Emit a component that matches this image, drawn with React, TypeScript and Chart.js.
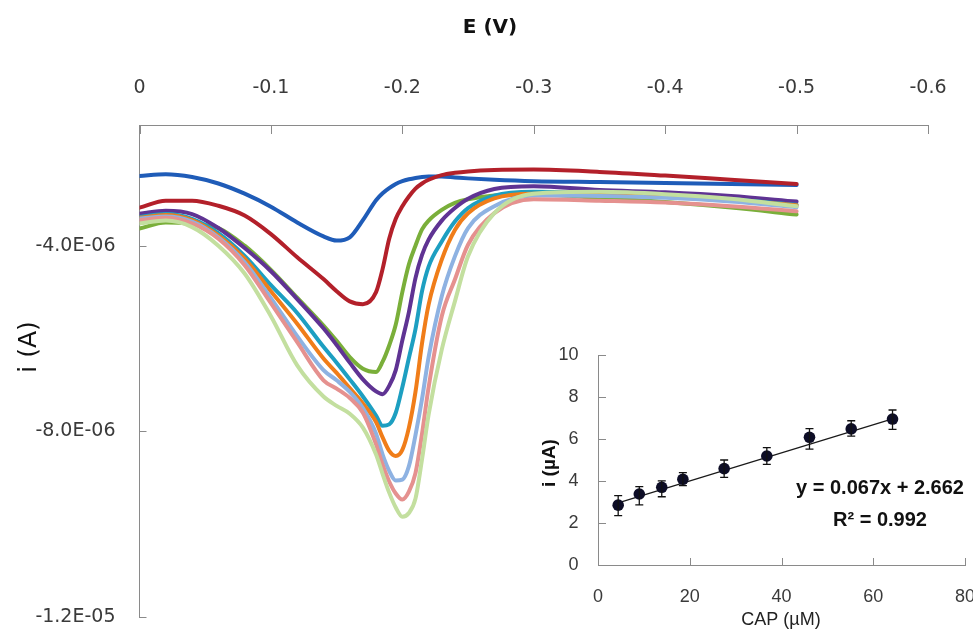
import React, { useEffect, useRef } from "react";
import { Chart, registerables } from "chart.js";

Chart.register(...registerables);

// ---------------- Main voltammogram (E in V, i in µA) ----------------
const potentialV = [0, -0.02, -0.04, -0.06, -0.08, -0.1, -0.12, -0.14, -0.15, -0.16, -0.17, -0.18, -0.185, -0.19, -0.195, -0.2, -0.205, -0.21, -0.215, -0.22, -0.23, -0.24, -0.25, -0.27, -0.3, -0.35, -0.4, -0.45, -0.5];

const curBlank = [-2.50, -2.46, -2.52, -2.66, -2.88, -3.16, -3.50, -3.80, -3.89, -3.82, -3.45, -3.02, -2.87, -2.76, -2.67, -2.61, -2.57, -2.54, -2.52, -2.51, -2.51, -2.53, -2.55, -2.58, -2.61, -2.63, -2.65, -2.67, -2.69];
const curRed = [-3.18, -3.03, -3.03, -3.14, -3.35, -3.75, -4.25, -4.72, -4.98, -5.20, -5.26, -5.00, -4.50, -3.85, -3.42, -3.15, -2.94, -2.77, -2.66, -2.58, -2.48, -2.43, -2.40, -2.37, -2.36, -2.41, -2.49, -2.58, -2.67];
const curGreen = [-3.63, -3.50, -3.53, -3.62, -4.00, -4.52, -5.12, -5.72, -6.05, -6.40, -6.65, -6.72, -6.50, -6.15, -5.70, -5.00, -4.40, -4.00, -3.65, -3.46, -3.23, -3.08, -3.00, -2.92, -2.90, -2.97, -3.06, -3.18, -3.33];
const curPurple = [-3.31, -3.25, -3.32, -3.62, -4.05, -4.55, -5.15, -5.78, -6.14, -6.52, -6.88, -7.14, -7.20, -7.02, -6.68, -6.04, -5.43, -4.70, -4.20, -3.87, -3.46, -3.19, -2.99, -2.78, -2.72, -2.80, -2.85, -2.93, -3.05];
const curCyan = [-3.38, -3.32, -3.42, -3.73, -4.22, -4.85, -5.45, -6.18, -6.52, -6.88, -7.25, -7.66, -7.88, -7.85, -7.60, -7.05, -6.42, -5.80, -4.98, -4.45, -3.91, -3.48, -3.19, -2.92, -2.84, -2.88, -2.92, -3.00, -3.12];
const curOrange = [-3.40, -3.34, -3.45, -3.78, -4.28, -4.98, -5.68, -6.43, -6.74, -7.07, -7.40, -7.80, -8.13, -8.42, -8.53, -8.40, -7.92, -7.15, -6.10, -5.27, -4.30, -3.66, -3.30, -2.98, -2.88, -2.90, -2.94, -3.02, -3.13];
const curLightBlue = [-3.42, -3.37, -3.48, -3.82, -4.36, -5.13, -5.95, -6.68, -6.90, -7.15, -7.50, -8.05, -8.50, -8.85, -9.06, -9.04, -8.75, -8.08, -7.30, -6.40, -5.09, -4.23, -3.62, -3.15, -2.92, -2.93, -2.97, -3.05, -3.17];
const curPink = [-3.45, -3.40, -3.52, -3.85, -4.42, -5.24, -6.08, -6.90, -7.08, -7.28, -7.60, -8.28, -8.72, -9.08, -9.34, -9.47, -9.30, -8.90, -8.05, -7.05, -5.52, -4.73, -3.98, -3.30, -3.00, -3.03, -3.07, -3.15, -3.26];
const curLightGreen = [-3.52, -3.46, -3.60, -4.00, -4.60, -5.52, -6.58, -7.25, -7.45, -7.62, -7.92, -8.50, -8.92, -9.32, -9.64, -9.84, -9.76, -9.45, -8.60, -7.64, -6.24, -5.20, -4.23, -3.30, -2.88, -2.84, -2.89, -2.99, -3.15];

const curveSeries = [curBlank, curRed, curGreen, curPurple, curCyan, curOrange, curLightBlue, curPink, curLightGreen];
const curveColors = ["#1f5cb8", "#b3202a", "#7aaf3a", "#5f3393", "#1d9fc1", "#f07d19", "#8eb2e2", "#e5918f", "#c3df9f"];

const eTicks = [0, -0.1, -0.2, -0.3, -0.4, -0.5, -0.6];
const iTicks = [-4, -8, -12]; // µA
const iAxisMin = -12;
const iAxisMax = -1.4;

// ---------------- Inset calibration ----------------
const capConc = [4.4, 9.0, 13.9, 18.5, 27.5, 36.8, 46.1, 55.2, 64.2];
const peakCurrent = [2.85, 3.38, 3.70, 4.08, 4.59, 5.19, 6.08, 6.48, 6.95];
const errHigh = [3.30, 3.73, 4.01, 4.40, 5.00, 5.59, 6.49, 6.87, 7.38];
const errLow = [2.35, 2.86, 3.25, 3.78, 4.17, 4.79, 5.52, 6.14, 6.46];
const trendX = [4.4, 64.2];
const trendY = [2.96, 6.96];
const insetXTicks = [0, 20, 40, 60, 80];
const insetYTicks = [0, 2, 4, 6, 8, 10];

function sciLabel(v: number): string {
  const [m, e] = v.toExponential(1).split("e");
  const n = parseInt(e, 10);
  return `${m}E${n < 0 ? "-" : "+"}${String(Math.abs(n)).padStart(2, "0")}`;
}

const fixedTexts = {
  id: "fixedTexts",
  afterDraw(chart: any, _a: any, opts: any) {
    const ctx = chart.ctx;
    (opts.items || []).forEach((it: any) => {
      ctx.save();
      ctx.translate(it.x, it.y);
      if (it.rotate) ctx.rotate(it.rotate);
      ctx.font = it.font;
      ctx.fillStyle = it.color;
      ctx.textAlign = "center";
      ctx.textBaseline = "middle";
      ctx.fillText(it.text, 0, 0);
      ctx.restore();
    });
  },
};

const inwardTicks = {
  id: "inwardTicks",
  afterDraw(chart: any, _a: any, opts: any) {
    const { ctx, chartArea: ca, scales } = chart;
    const xs = scales.x;
    const ys = scales.y;
    ctx.save();
    ctx.strokeStyle = opts.color;
    ctx.lineWidth = 1;
    ctx.beginPath();
    xs.ticks.forEach((t: any) => {
      const px = Math.round(xs.getPixelForValue(t.value)) + 0.5;
      if (opts.xEdge === "top") {
        ctx.moveTo(px, ca.top);
        ctx.lineTo(px, ca.top + opts.xLen);
      } else {
        ctx.moveTo(px, ca.bottom);
        ctx.lineTo(px, ca.bottom - opts.xLen);
      }
    });
    ys.ticks.forEach((t: any) => {
      const py = Math.round(ys.getPixelForValue(t.value)) + 0.5;
      ctx.moveTo(ca.left, py);
      ctx.lineTo(ca.left + opts.yLen, py);
    });
    ctx.stroke();
    ctx.restore();
  },
};

const errorBars = {
  id: "errorBars",
  afterDatasetsDraw(chart: any, _a: any, opts: any) {
    const { ctx, scales } = chart;
    const xs = scales.x;
    const ys = scales.y;
    ctx.save();
    ctx.strokeStyle = opts.color;
    ctx.lineWidth = opts.width;
    capConc.forEach((c, i) => {
      const px = xs.getPixelForValue(c);
      const hi = ys.getPixelForValue(errHigh[i]);
      const lo = ys.getPixelForValue(errLow[i]);
      ctx.beginPath();
      ctx.moveTo(px, hi);
      ctx.lineTo(px, lo);
      ctx.moveTo(px - opts.cap, hi);
      ctx.lineTo(px + opts.cap, hi);
      ctx.moveTo(px - opts.cap, lo);
      ctx.lineTo(px + opts.cap, lo);
      ctx.stroke();
    });
    ctx.restore();
  },
};

const AXIS_GRAY = "#8a8a8a";

function mainConfig(): any {
  const n = curveSeries.length;
  const datasets = curveSeries.map((vals, idx) => ({
    label: `curve ${idx + 1}`,
    data: potentialV.map((e, k) => ({ x: e, y: vals[k] })),
    borderColor: curveColors[idx],
    backgroundColor: curveColors[idx],
    borderWidth: 4,
    borderJoinStyle: "round",
    borderCapStyle: "round",
    pointRadius: 0,
    fill: false,
    cubicInterpolationMode: "monotone",
    order: n - idx,
  }));
  const tickFont = { family: "'DejaVu Sans', sans-serif", size: 19 };
  return {
    type: "line",
    data: { datasets },
    options: {
      responsive: false,
      animation: false,
      devicePixelRatio: 1,
      events: [],
      layout: { padding: { left: 0, top: 0, right: 45, bottom: 12 } },
      plugins: {
        legend: { display: false },
        tooltip: { enabled: false },
        inwardTicks: { color: AXIS_GRAY, xEdge: "top", xLen: 9, yLen: 7 },
        fixedTexts: {
          items: [
            { text: "E (V)", x: 490, y: 28, font: "bold 20px 'DejaVu Sans', sans-serif", color: "#111" },
            { text: "i (A)", x: 29, y: 347, font: "25px 'DejaVu Sans', sans-serif", color: "#111", rotate: -Math.PI / 2 },
          ],
        },
      },
      scales: {
        x: {
          type: "linear",
          position: "top",
          reverse: true,
          min: -0.6,
          max: 0,
          grid: { display: false, drawTicks: false },
          border: { display: true, color: AXIS_GRAY, width: 1 },
          ticks: {
            padding: 26,
            font: tickFont,
            color: "#3a3a3a",
            maxRotation: 0,
            autoSkip: false,
            callback: (v: number) => (Math.abs(v) < 1e-9 ? "0" : v.toFixed(1)),
          },
          afterBuildTicks: (s: any) => {
            s.ticks = eTicks.map((v) => ({ value: v }));
          },
          afterFit: (s: any) => {
            s.height = 125;
            s.paddingLeft = 0;
            s.paddingRight = 0;
          },
        },
        y: {
          type: "linear",
          position: "left",
          min: iAxisMin,
          max: iAxisMax,
          grid: { display: false, drawTicks: false },
          border: { display: true, color: AXIS_GRAY, width: 1 },
          ticks: {
            padding: 24,
            font: tickFont,
            color: "#3a3a3a",
            autoSkip: false,
            callback: (v: number) => sciLabel(v * 1e-6),
          },
          afterBuildTicks: (s: any) => {
            s.ticks = iTicks.map((v) => ({ value: v }));
          },
          afterFit: (s: any) => {
            s.width = 139.5;
            s.paddingTop = 0;
            s.paddingBottom = 0;
          },
        },
      },
    },
    plugins: [inwardTicks, fixedTexts],
  };
}

function insetConfig(): any {
  const tickFont = { family: "'Liberation Sans', Arial, sans-serif", size: 18 };
  return {
    type: "scatter",
    data: {
      datasets: [
        {
          label: "CAP",
          data: capConc.map((c, i) => ({ x: c, y: peakCurrent[i] })),
          backgroundColor: "#0d0d26",
          borderColor: "#0d0d26",
          pointRadius: 5.8,
          pointBorderWidth: 0,
          showLine: false,
          order: 0,
        },
        {
          label: "trend",
          data: trendX.map((x, i) => ({ x, y: trendY[i] })),
          borderColor: "#1a1a1a",
          borderWidth: 1.2,
          pointRadius: 0,
          showLine: true,
          fill: false,
          order: 1,
        },
      ],
    },
    options: {
      responsive: false,
      animation: false,
      devicePixelRatio: 1,
      events: [],
      layout: { padding: { left: 0, top: 25, right: 8, bottom: 0 } },
      plugins: {
        legend: { display: false },
        tooltip: { enabled: false },
        inwardTicks: { color: AXIS_GRAY, xEdge: "bottom", xLen: 7, yLen: 8 },
        errorBars: { color: "#111", width: 1.3, cap: 4 },
        fixedTexts: {
          items: [
            { text: "y = 0.067x + 2.662", x: 360, y: 158, font: "bold 20px 'Liberation Sans', Arial, sans-serif", color: "#111" },
            { text: "R² = 0.992", x: 360, y: 190, font: "bold 20px 'Liberation Sans', Arial, sans-serif", color: "#111" },
            { text: "i (µA)", x: 30, y: 133, font: "bold 19px 'Liberation Sans', Arial, sans-serif", color: "#111", rotate: -Math.PI / 2 },
            { text: "CAP (µM)", x: 261, y: 290, font: "18px 'Liberation Sans', Arial, sans-serif", color: "#222" },
          ],
        },
      },
      scales: {
        x: {
          type: "linear",
          position: "bottom",
          min: 0,
          max: 80,
          grid: { display: false, drawTicks: false },
          border: { display: true, color: AXIS_GRAY, width: 1 },
          ticks: { padding: 21, font: tickFont, color: "#3a3a3a", maxRotation: 0, autoSkip: false, callback: (v: number) => String(v) },
          afterBuildTicks: (s: any) => {
            s.ticks = insetXTicks.map((v) => ({ value: v }));
          },
          afterFit: (s: any) => {
            s.height = 64;
            s.paddingLeft = 0;
            s.paddingRight = 0;
          },
        },
        y: {
          type: "linear",
          position: "left",
          min: 0,
          max: 10,
          grid: { display: false, drawTicks: false },
          border: { display: true, color: AXIS_GRAY, width: 1 },
          ticks: { padding: 19.5, font: tickFont, color: "#3a3a3a", autoSkip: false, callback: (v: number) => String(v) },
          afterBuildTicks: (s: any) => {
            s.ticks = insetYTicks.map((v) => ({ value: v }));
          },
          afterFit: (s: any) => {
            s.width = 78;
            s.paddingTop = 0;
            s.paddingBottom = 0;
          },
        },
      },
    },
    plugins: [inwardTicks, errorBars, fixedTexts],
  };
}

export default function App() {
  const mainRef = useRef<HTMLCanvasElement>(null);
  const insetRef = useRef<HTMLCanvasElement>(null);

  useEffect(() => {
    if (!mainRef.current || !insetRef.current) return;
    const main = new Chart(mainRef.current, mainConfig());
    const inset = new Chart(insetRef.current, insetConfig());
    return () => {
      main.destroy();
      inset.destroy();
    };
  }, []);

  return (
    <div style={{ position: "absolute", left: 0, top: 0, width: 973, height: 629, background: "#ffffff", overflow: "hidden" }}>
      <canvas ref={mainRef} width={973} height={629} style={{ position: "absolute", left: 0, top: 0, width: 973, height: 629 }} />
      <canvas ref={insetRef} width={453} height={299} style={{ position: "absolute", left: 520, top: 330, width: 453, height: 299 }} />
    </div>
  );
}
